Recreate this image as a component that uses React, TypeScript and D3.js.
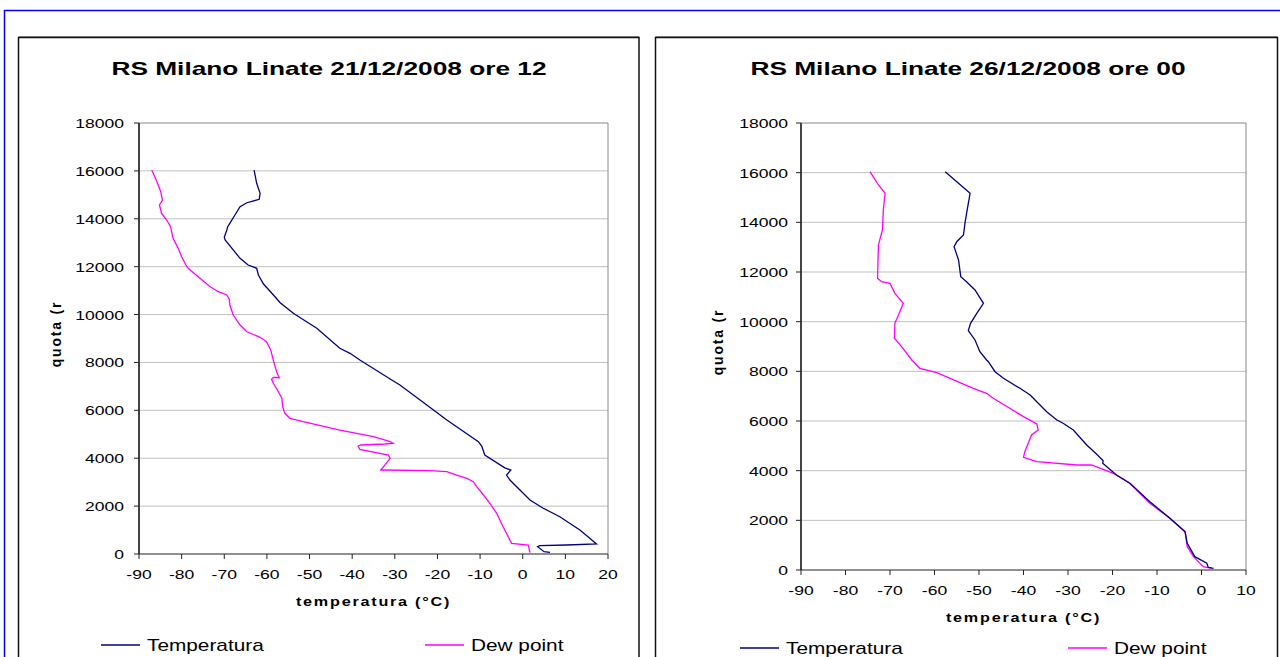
import * as d3 from 'd3';

// [temperature °C, quota m] read from the two soundings
const temp21: [number, number][] = [
  [6.4, 71], [5.0, 96], [3.5, 305], [4.0, 347], [10.3, 376], [17.3, 418], [15.3, 722],
  [13.4, 1002], [8.7, 1558], [4.7, 1921], [1.7, 2255], [-3.0, 3090], [-3.8, 3299],
  [-2.8, 3508], [-4.2, 3600], [-8.9, 4134], [-9.6, 4500], [-10.4, 4690], [-17.8, 5596],
  [-21.8, 6126], [-28.8, 7057], [-31.1, 7308], [-38.2, 8101], [-40.5, 8381], [-42.9, 8590],
  [-48.3, 9425], [-50.7, 9700], [-53.8, 10052], [-56.9, 10495], [-58.1, 10745],
  [-60.8, 11275], [-62.0, 11651], [-62.4, 11931], [-64.4, 12069], [-66.3, 12348],
  [-69.8, 13113], [-70.0, 13226], [-69.4, 13530], [-69.2, 13669], [-68.7, 13810],
  [-67.5, 14157], [-66.3, 14503], [-64.7, 14670], [-61.8, 14813], [-61.6, 15063],
  [-62.4, 15481], [-63.0, 16036],
];

const dew21: [number, number][] = [
  [1.7, 56], [1.3, 376], [-2.6, 447], [-3.4, 722], [-4.6, 1140], [-6.1, 1700], [-7.7, 2117],
  [-9.2, 2464], [-10.8, 2811], [-11.6, 3020], [-13.1, 3160], [-15.5, 3299], [-17.8, 3438],
  [-21.8, 3480], [-32.7, 3508], [-33.3, 3508], [-31.1, 3996], [-31.5, 4134], [-38.2, 4372],
  [-38.6, 4510], [-38.0, 4552], [-32.3, 4594], [-30.4, 4621], [-31.1, 4690], [-35.0, 4899],
  [-42.9, 5178], [-51.5, 5525], [-54.6, 5667], [-55.8, 5875], [-56.3, 6151], [-56.5, 6502],
  [-57.3, 6778], [-58.5, 7128], [-58.9, 7295], [-58.5, 7379], [-57.1, 7362], [-57.6, 7546],
  [-58.3, 7964], [-59.1, 8519], [-60.1, 8866], [-61.6, 9049], [-64.7, 9283], [-66.3, 9563],
  [-67.9, 9981], [-68.7, 10399], [-68.8, 10635], [-69.4, 10816], [-71.4, 10954],
  [-73.3, 11163], [-75.7, 11512], [-78.0, 11860], [-78.8, 11999], [-80.0, 12416],
  [-80.8, 12765], [-82.0, 13183], [-82.6, 13669], [-83.5, 13948], [-84.7, 14227],
  [-85.2, 14574], [-84.5, 14783], [-84.9, 15132], [-85.8, 15550], [-87.0, 16036],
];

const temp26: [number, number][] = [
  [2.7, 68], [1.5, 109], [1.2, 270], [-1.5, 536], [-3.2, 1075], [-3.7, 1542], [-7.1, 2082],
  [-11.6, 2750], [-16.1, 3492], [-19.1, 3826], [-22.2, 4297], [-22.1, 4402], [-23.6, 4671],
  [-25.8, 5034], [-28.8, 5638], [-31.1, 5908], [-32.5, 6040], [-34.8, 6376], [-38.5, 7047],
  [-40.8, 7316], [-44.5, 7718], [-46.4, 7986], [-47.9, 8389], [-48.3, 8457], [-49.8, 8791],
  [-50.9, 9262], [-52.4, 9637], [-51.9, 9935], [-50.5, 10337], [-49.0, 10739],
  [-50.9, 11276], [-52.8, 11610], [-54.1, 11812], [-54.6, 12484], [-55.6, 13020],
  [-55.0, 13221], [-53.5, 13490], [-53.1, 14026], [-52.4, 14767], [-52.0, 15170],
  [-57.6, 16040],
];

const dew26: [number, number][] = [
  [2.3, 68], [0.4, 133], [-1.8, 536], [-3.2, 938], [-3.7, 1542], [-7.1, 2082], [-11.6, 2686],
  [-16.1, 3492], [-19.8, 3894], [-24.7, 4228], [-28.0, 4228], [-37.0, 4361], [-40.0, 4536],
  [-39.7, 4764], [-38.2, 5436], [-36.7, 5638], [-37.0, 5880], [-40.0, 6174], [-46.8, 6914],
  [-48.3, 7116], [-51.3, 7316], [-56.5, 7720], [-59.5, 7945], [-63.3, 8122], [-65.1, 8457],
  [-67.4, 8992], [-69.0, 9331], [-68.9, 9935], [-68.1, 10269], [-67.0, 10739],
  [-68.9, 11141], [-70.0, 11543], [-71.9, 11610], [-72.8, 11745], [-72.6, 13088],
  [-71.7, 13692], [-71.5, 14497], [-71.1, 15170], [-72.6, 15504], [-74.5, 16040],
];

const quotaTicks = [0, 2000, 4000, 6000, 8000, 10000, 12000, 14000, 16000, 18000];
const tempTicks21 = [-90, -80, -70, -60, -50, -40, -30, -20, -10, 0, 10, 20];
const tempTicks26 = [-90, -80, -70, -60, -50, -40, -30, -20, -10, 0, 10];

const titles = ['RS Milano Linate 21/12/2008 ore 12', 'RS Milano Linate 26/12/2008 ore 00'];
const seriesNames = ['Temperatura', 'Dew point'];

const FONT = "'Liberation Sans', Arial, sans-serif";
const TEMP_COLOR = '#000080';
const DEW_COLOR = '#ff00ff';

// the source image is stretched sideways, so text is widened with sx
const SText = ({ x, y, sx = 1.35, anchor = 'start', size = 13, bold = false, children, ...rest }: any) => (
  <text
    transform={`translate(${x},${y}) scale(${sx},1)`}
    textAnchor={anchor}
    fontSize={size}
    fontWeight={bold ? 'bold' : 'normal'}
    fontFamily={FONT}
    fill="#000"
    {...rest}
  >
    {children}
  </text>
);

const Sounding = ({ panel, plot, xTicks, title, temp, dew, layout }: any) => {
  const x = d3.scaleLinear().domain([xTicks[0], xTicks[xTicks.length - 1]]).range([plot.left, plot.right]);
  const y = d3.scaleLinear().domain([0, 18000]).range([plot.bottom, plot.top]);
  const line = d3
    .line<[number, number]>()
    .x((d) => x(d[0]))
    .y((d) => y(d[1]));

  return (
    <g>
      <rect x={panel.left} y={panel.top} width={panel.right - panel.left} height={700} fill="#fff" stroke="#111" strokeWidth={1.5} />
      <line x1={panel.left} x2={panel.right} y1={panel.top - 1} y2={panel.top - 1} stroke="#777" strokeWidth={1} />
      <SText x={layout.titleX} y={layout.titleY} anchor="middle" size={18} bold sx={1.46}>
        {title}
      </SText>

      {quotaTicks.slice(1, -1).map((t) => (
        <line key={t} x1={plot.left} x2={plot.right} y1={y(t)} y2={y(t)} stroke="#c0c0c0" strokeWidth={1} />
      ))}
      <line x1={plot.left} x2={plot.right} y1={plot.top} y2={plot.top} stroke="#888" strokeWidth={1} />
      <line x1={plot.right} x2={plot.right} y1={plot.top} y2={plot.bottom} stroke="#888" strokeWidth={1} />

      <path d={line(dew) ?? ''} fill="none" stroke={DEW_COLOR} strokeWidth={1.3} />
      <path d={line(temp) ?? ''} fill="none" stroke={TEMP_COLOR} strokeWidth={1.3} />

      <line x1={plot.left} x2={plot.left} y1={plot.top} y2={plot.bottom} stroke="#444" strokeWidth={2} />
      <line x1={plot.left} x2={plot.right} y1={plot.bottom} y2={plot.bottom} stroke="#222" strokeWidth={1} />
      {quotaTicks.map((t) => (
        <g key={t}>
          <line x1={plot.left - 5} x2={plot.left} y1={y(t)} y2={y(t)} stroke="#222" strokeWidth={1} />
          <SText x={plot.left - layout.yGap} y={y(t) + 5} anchor="end" size={13} sx={1.35}>
            {t}
          </SText>
        </g>
      ))}
      {xTicks.map((t: number) => (
        <g key={t}>
          <line x1={x(t)} x2={x(t)} y1={plot.bottom} y2={plot.bottom + 5} stroke="#222" strokeWidth={1} />
          <SText x={x(t)} y={plot.bottom + 25} anchor="middle" size={13} sx={1.35}>
            {t}
          </SText>
        </g>
      ))}

      <SText x={(plot.left + plot.right) / 2} y={plot.bottom + 52} anchor="middle" size={12} bold sx={1.35} letterSpacing={1.3}>
        temperatura (°C)
      </SText>
      <text
        transform={`translate(${layout.qX},${layout.qY}) rotate(-90)`}
        textAnchor="middle"
        fontSize={14}
        fontWeight="bold"
        fontFamily={FONT}
        letterSpacing={1.8}
      >
        quota (r
      </text>

      {[temp, dew].map((_, i) => (
        <g key={i}>
          <line x1={layout.legX[i]} x2={layout.legX[i] + 39} y1={layout.legY} y2={layout.legY} stroke={i === 0 ? TEMP_COLOR : DEW_COLOR} strokeWidth={1.5} />
          <SText x={layout.legX[i] + 46} y={layout.legY + 6} size={16} sx={1.3}>
            {seriesNames[i]}
          </SText>
        </g>
      ))}
    </g>
  );
};

export default function App() {
  return (
    <div style={{ position: 'absolute', left: 0, top: 0 }}>
      <svg width={1280} height={657} style={{ display: 'block' }}>
        <rect width={1280} height={657} fill="#fff" />
        <Sounding
          panel={{ left: 18.5, right: 639, top: 37.5 }}
          plot={{ left: 139, right: 608, top: 123, bottom: 554 }}
          xTicks={tempTicks21}
          title={titles[0]}
          temp={temp21}
          dew={dew21}
          layout={{ titleX: 329, titleY: 75, yGap: 15, qX: 61, qY: 334, legX: [101, 425], legY: 645 }}
        />
        <Sounding
          panel={{ left: 655.5, right: 1277.5, top: 37.5 }}
          plot={{ left: 801, right: 1246, top: 123, bottom: 570 }}
          xTicks={tempTicks26}
          title={titles[1]}
          temp={temp26}
          dew={dew26}
          layout={{ titleX: 968, titleY: 75, yGap: 13, qX: 723, qY: 342, legX: [740, 1068], legY: 648 }}
        />
        <path d="M4.5,657 V10.5 H1280" fill="none" stroke="#0000ff" strokeWidth={1.5} />
      </svg>
    </div>
  );
}
